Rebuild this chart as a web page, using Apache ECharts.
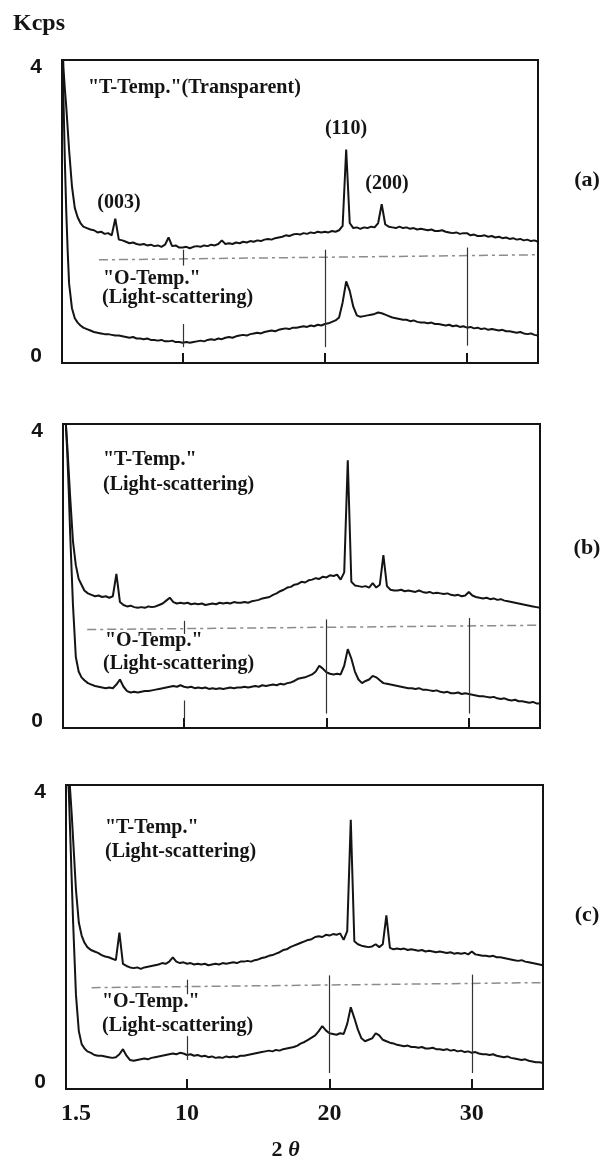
<!DOCTYPE html>
<html>
<head>
<meta charset="utf-8">
<script src="https://cdn.jsdelivr.net/npm/echarts@6/dist/echarts.min.js"></script>
<style>
  html, body { margin: 0; padding: 0; background: #fff; }
  #chart { width: 608px; height: 1160px; }
</style>
</head>
<body>
<div id="chart"></div>
<script>
// 2-theta scan positions (deg)
var twoTheta = [
  1.5, 1.6, 1.7, 1.8, 1.9, 2.0, 2.2, 2.4, 2.6, 2.8,
  3, 3.25, 3.5, 3.75,  4, 4.25, 4.5, 4.75,  5, 5.25, 5.5, 5.75,
  6, 6.25, 6.5, 6.75,  7, 7.25, 7.5, 7.75,  8, 8.25, 8.5, 8.75,
  9, 9.25, 9.5, 9.75,  10, 10.25, 10.5, 10.75,  11, 11.25, 11.5, 11.75,
  12, 12.25, 12.5, 12.75,  13, 13.25, 13.5, 13.75,  14, 14.25, 14.5, 14.75,
  15, 15.25, 15.5, 15.75,  16, 16.25, 16.5, 16.75,  17, 17.25, 17.5, 17.75,
  18, 18.25, 18.5, 18.75,  19, 19.25, 19.5, 19.75,  20, 20.25, 20.5, 20.75,
  21, 21.25, 21.5, 21.75,  22, 22.25, 22.5, 22.75,  23, 23.25, 23.5, 23.75,
  24, 24.25, 24.5, 24.75,  25, 25.25, 25.5, 25.75,  26, 26.25, 26.5, 26.75,
  27, 27.25, 27.5, 27.75,  28, 28.25, 28.5, 28.75,  29, 29.25, 29.5, 29.75,
  30, 30.25, 30.5, 30.75,  31, 31.25, 31.5, 31.75,  32, 32.25, 32.5, 32.75,
  33, 33.25, 33.5, 33.75,  34, 34.25, 34.5, 34.75,  35
];

// (a) "T-Temp." (Transparent), Kcps
var aTTemp = [
  4.6, 4.0, 3.7, 3.45, 3.15, 2.85, 2.35, 2.05, 1.92, 1.84,
  1.79, 1.77, 1.75, 1.74,  1.71, 1.72, 1.69, 1.70,  1.67, 1.90, 1.61, 1.60,
  1.58, 1.56, 1.57, 1.55,  1.54, 1.55, 1.53, 1.54,  1.52, 1.53, 1.51, 1.54,
  1.64, 1.52, 1.53, 1.50,  1.50, 1.51, 1.49, 1.51,  1.52, 1.51, 1.53, 1.52,
  1.54, 1.53, 1.55, 1.60,  1.55, 1.56, 1.55, 1.57,  1.56, 1.58, 1.57, 1.59,
  1.58, 1.60, 1.59, 1.61,  1.62, 1.61, 1.63, 1.64,  1.65, 1.67, 1.66, 1.68,
  1.69, 1.68, 1.70, 1.69,  1.71, 1.70, 1.72, 1.71,  1.72, 1.71, 1.73, 1.72,
  1.74, 1.80, 2.86, 1.84,  1.77, 1.78, 1.76, 1.78,  1.77, 1.79, 1.78, 1.84,
  2.10, 1.82, 1.79, 1.78,  1.77, 1.79, 1.77, 1.78,  1.76, 1.77, 1.75, 1.76,
  1.75, 1.74, 1.75, 1.73,  1.73, 1.74, 1.72, 1.71,  1.70, 1.71, 1.69, 1.70,
  1.70, 1.67, 1.68, 1.66,  1.66, 1.67, 1.65, 1.66,  1.64, 1.65, 1.63, 1.64,
  1.62, 1.63, 1.61, 1.62,  1.60, 1.61, 1.59, 1.60,  1.58
];
// (a) "O-Temp." (Light-scattering)
var aOTemp = [
  4.6, 3.6, 2.7, 2.0, 1.45, 1.0, 0.66, 0.52, 0.46, 0.42,
  0.39, 0.37, 0.35, 0.33,  0.32, 0.31, 0.30, 0.30,  0.29, 0.28, 0.28, 0.27,
  0.26, 0.25, 0.26, 0.24,  0.24, 0.23, 0.24, 0.22,  0.22, 0.21, 0.22, 0.20,
  0.20, 0.21, 0.19, 0.19,  0.18, 0.19, 0.18, 0.19,  0.20, 0.21, 0.20, 0.22,
  0.23, 0.22, 0.24, 0.23,  0.25, 0.26, 0.25, 0.27,  0.28, 0.29, 0.28, 0.30,
  0.31, 0.32, 0.31, 0.33,  0.34, 0.35, 0.34, 0.36,  0.37, 0.38, 0.37, 0.39,
  0.39, 0.40, 0.41, 0.40,  0.42, 0.41, 0.43, 0.42,  0.44, 0.45, 0.47, 0.49,
  0.53, 0.74, 1.03, 0.90,  0.68, 0.56, 0.54, 0.55,  0.56, 0.57, 0.58, 0.60,
  0.59, 0.57, 0.55, 0.53,  0.52, 0.51, 0.50, 0.50,  0.48, 0.49, 0.47, 0.46,
  0.46, 0.45, 0.46, 0.44,  0.44, 0.43, 0.42, 0.43,  0.41, 0.42, 0.40, 0.41,
  0.39, 0.40, 0.38, 0.39,  0.37, 0.38, 0.36, 0.37,  0.36, 0.35, 0.36, 0.34,
  0.34, 0.33, 0.32, 0.33,  0.31, 0.30, 0.31, 0.29,  0.28
];
// (b) "T-Temp." (Light-scattering)
var bTTemp = [
  4.6, 4.4, 4.1, 3.8, 3.45, 3.1, 2.48, 2.15, 1.96, 1.88,
  1.80, 1.76, 1.74, 1.72,  1.73, 1.71, 1.72, 1.70,  1.72, 2.03, 1.64, 1.60,
  1.58, 1.59, 1.57, 1.56,  1.57, 1.56, 1.58, 1.57,  1.58, 1.60, 1.62, 1.66,
  1.70, 1.64, 1.62, 1.63,  1.62, 1.63, 1.61, 1.62,  1.61, 1.62, 1.60, 1.61,
  1.62, 1.61, 1.63, 1.62,  1.63, 1.62, 1.64, 1.63,  1.63, 1.64, 1.63, 1.65,
  1.66, 1.67, 1.69, 1.70,  1.71, 1.74, 1.76, 1.79,  1.81, 1.84, 1.85, 1.88,
  1.89, 1.92, 1.91, 1.94,  1.95, 1.97, 1.96, 1.99,  1.98, 2.01, 2.00, 2.02,
  1.95, 2.05, 3.60, 1.92,  1.87, 1.86, 1.85, 1.86,  1.84, 1.90, 1.84, 1.88,
  2.29, 1.86, 1.81, 1.80,  1.80, 1.81, 1.79, 1.80,  1.79, 1.78, 1.80, 1.78,
  1.77, 1.78, 1.76, 1.77,  1.76, 1.75, 1.76, 1.74,  1.73, 1.74, 1.72, 1.73,
  1.78, 1.73, 1.71, 1.70,  1.69, 1.70, 1.68, 1.69,  1.67, 1.68, 1.66, 1.65,
  1.64, 1.63, 1.62, 1.61,  1.60, 1.59, 1.58, 1.57,  1.56
];
// (b) "O-Temp." (Light-scattering)
var bOTemp = [
  4.6, 4.4, 4.1, 3.7, 3.2, 2.6, 1.6, 0.88, 0.68, 0.60,
  0.56, 0.52, 0.50, 0.48,  0.47, 0.46, 0.45, 0.46,  0.45, 0.50, 0.57, 0.47,
  0.41, 0.39, 0.40, 0.39,  0.40, 0.41, 0.41, 0.42,  0.43, 0.44, 0.45, 0.46,
  0.47, 0.48, 0.47, 0.49,  0.47, 0.46, 0.47, 0.45,  0.46, 0.45, 0.46, 0.44,
  0.45, 0.44, 0.45, 0.44,  0.45, 0.46, 0.45, 0.46,  0.46, 0.47, 0.46, 0.47,
  0.48, 0.47, 0.49, 0.48,  0.49, 0.50, 0.49, 0.51,  0.50, 0.52, 0.53, 0.55,
  0.58, 0.59, 0.60, 0.62,  0.64, 0.68, 0.76, 0.72,  0.67, 0.65, 0.64, 0.65,
  0.64, 0.76, 0.99, 0.86,  0.68, 0.57, 0.52, 0.55,  0.57, 0.62, 0.60, 0.56,
  0.52, 0.51, 0.50, 0.49,  0.48, 0.47, 0.46, 0.45,  0.45, 0.44, 0.45, 0.43,
  0.43, 0.42, 0.41, 0.42,  0.40, 0.39, 0.40, 0.38,  0.38, 0.39, 0.37, 0.38,
  0.37, 0.36, 0.35, 0.34,  0.34, 0.33, 0.32, 0.33,  0.31, 0.30, 0.31, 0.29,
  0.28, 0.29, 0.27, 0.27,  0.26, 0.25, 0.26, 0.24,  0.24
];
// (c) "T-Temp." (Light-scattering)
var cTTemp = [
  4.6, 4.5, 4.3, 4.0, 3.7, 3.35, 2.65, 2.2, 2.02, 1.92,
  1.86, 1.82, 1.80, 1.78,  1.75, 1.73, 1.72, 1.70,  1.68, 2.06, 1.63, 1.60,
  1.58, 1.57, 1.58, 1.56,  1.58, 1.59, 1.60, 1.61,  1.62, 1.64, 1.63, 1.66,
  1.72, 1.66, 1.64, 1.65,  1.63, 1.64, 1.62, 1.63,  1.62, 1.63, 1.61, 1.62,
  1.63, 1.62, 1.64, 1.63,  1.64, 1.65, 1.64, 1.66,  1.66, 1.67, 1.66, 1.68,
  1.69, 1.71, 1.72, 1.74,  1.75, 1.77, 1.79, 1.82,  1.83, 1.86, 1.88, 1.90,
  1.92, 1.94, 1.96, 1.97,  2.00, 2.01, 2.00, 2.03,  2.02, 2.04, 2.03, 2.05,
  1.96, 2.08, 3.62, 1.94,  1.90, 1.88, 1.87, 1.86,  1.87, 1.90, 1.86, 1.90,
  2.30, 1.85, 1.83, 1.84,  1.83, 1.84, 1.82, 1.83,  1.82, 1.81, 1.82, 1.80,
  1.81, 1.80, 1.79, 1.80,  1.79, 1.78, 1.79, 1.77,  1.78, 1.77, 1.78, 1.76,
  1.80, 1.76, 1.75, 1.74,  1.74, 1.73, 1.74, 1.72,  1.72, 1.71, 1.70, 1.69,
  1.68, 1.67, 1.68, 1.66,  1.65, 1.64, 1.63, 1.62,  1.61
];
// (c) "O-Temp." (Light-scattering)
var cOTemp = [
  4.6, 4.4, 4.0, 3.4, 2.8, 2.2, 1.2, 0.70, 0.52, 0.46,
  0.42, 0.40, 0.37, 0.36,  0.36, 0.35, 0.34, 0.33,  0.34, 0.38, 0.45, 0.36,
  0.30, 0.29, 0.30, 0.31,  0.32, 0.31, 0.33, 0.34,  0.35, 0.36, 0.37, 0.38,
  0.39, 0.38, 0.40, 0.39,  0.37, 0.38, 0.36, 0.37,  0.35, 0.36, 0.34, 0.35,
  0.33, 0.34, 0.33, 0.35,  0.34, 0.35, 0.34, 0.36,  0.36, 0.37, 0.38, 0.39,
  0.40, 0.41, 0.42, 0.43,  0.42, 0.44, 0.43, 0.45,  0.46, 0.47, 0.48, 0.50,
  0.53, 0.55, 0.58, 0.61,  0.64, 0.70, 0.77, 0.71,  0.67, 0.66, 0.65, 0.67,
  0.66, 0.80, 1.03, 0.88,  0.72, 0.60, 0.56, 0.58,  0.60, 0.67, 0.64, 0.58,
  0.56, 0.54, 0.53, 0.51,  0.50, 0.49, 0.50, 0.48,  0.48, 0.47, 0.48, 0.46,
  0.46, 0.47, 0.45, 0.45,  0.44, 0.45, 0.43, 0.44,  0.42, 0.43, 0.41, 0.42,
  0.40, 0.41, 0.39, 0.38,  0.38, 0.37, 0.38, 0.36,  0.35, 0.34, 0.35, 0.33,
  0.32, 0.31, 0.30, 0.31,  0.29, 0.28, 0.27, 0.27,  0.26
];

var xTickLabels = [1.5, 10, 20, 30];
var xTicks = [10, 20, 30];
var yTickLabels = [0, 4];
var panelNames = ['(a)', '(b)', '(c)'];

// dashed reference line: start 2theta, level at start, level at right edge
var dashStart = [4.1, 3.2, 3.3];
var dashLeftLevel = [1.33, 1.26, 1.30];
var dashRightLevel = [1.40, 1.32, 1.37];
// vertical marks: [2theta, from, to]
var marks = [
  [[10, 1.47, 1.25], [10, 0.44, 0.12], [20, 1.47, 0.12], [30, 1.50, 0.14]],
  [[10, 1.38, 1.20], [10, 0.28, 0.02], [20, 1.40, 0.10], [30, 1.42, 0.10]],
  [[10, 1.41, 1.21], [10, 0.63, 0.30], [20, 1.47, 0.12], [30, 1.48, 0.12]]
];

var chart = echarts.init(document.getElementById('chart'));
var ink = '#141414';
var serif = '"Liberation Serif", "Times New Roman", serif';
var sans = '"Liberation Sans", Arial, sans-serif';

var curves = [[aTTemp, aOTemp], [bTTemp, bOTemp], [cTTemp, cOTemp]];
var boxes = [
  { left: 62, top: 60, width: 476, height: 303 },
  { left: 63, top: 424, width: 477, height: 304 },
  { left: 66, top: 785, width: 477, height: 304 }
];

function pairs(ys) {
  return twoTheta.map(function (x, i) { return [x, ys[i]]; });
}

var grid = [], xAxis = [], yAxis = [], series = [];
boxes.forEach(function (box, i) {
  grid.push(Object.assign({ show: true, borderColor: ink, borderWidth: 2 }, box));
  xAxis.push({
    type: 'value', gridIndex: i, min: 1.5, max: 35,
    axisLine: { show: true, onZero: false, lineStyle: { color: ink, width: 2 } },
    axisTick: { show: true, inside: true, length: 10, customValues: xTicks, lineStyle: { color: ink, width: 2 } },
    axisLabel: {
      show: i === 2, customValues: xTickLabels, margin: 13,
      color: ink, fontFamily: serif, fontSize: 24, fontWeight: 'bold',
      formatter: function (v) { return v === 1.5 ? '{first|1.5}' : String(v); },
      rich: { first: { padding: [0, 0, 0, 20], color: ink, fontFamily: serif, fontSize: 24, fontWeight: 'bold' } }
    },
    splitLine: { show: false }
  });
  yAxis.push({
    type: 'value', gridIndex: i, min: -0.1, max: 4.1,
    axisLine: { show: true, onZero: false, lineStyle: { color: ink, width: 2 } },
    axisTick: { show: false },
    axisLabel: { customValues: yTickLabels, margin: 20, color: ink, fontFamily: sans, fontSize: 21, fontWeight: 'bold' },
    splitLine: { show: false }
  });

  var mlData = [[
    { coord: [dashStart[i], dashLeftLevel[i]], lineStyle: { color: '#8c8c8c', width: 1.5, type: [9, 4, 3, 4] } },
    { coord: [35, dashRightLevel[i]] }
  ]];
  marks[i].forEach(function (m) {
    mlData.push([
      { coord: [m[0], m[1]], lineStyle: { color: '#333', width: 1.2, type: 'solid' } },
      { coord: [m[0], m[2]] }
    ]);
  });

  series.push({
    type: 'line', xAxisIndex: i, yAxisIndex: i, data: pairs(curves[i][0]),
    symbol: 'none', lineStyle: { color: ink, width: 2 }, silent: true
  });
  series.push({
    type: 'line', xAxisIndex: i, yAxisIndex: i, data: pairs(curves[i][1]),
    symbol: 'none', lineStyle: { color: ink, width: 2 }, silent: true,
    markLine: { silent: true, symbol: ['none', 'none'], label: { show: false }, data: mlData }
  });
});

var notes = [
  ['"T-Temp."(Transparent)', 88, 88, 'left'],
  ['(003)', 119, 203, 'center'],
  ['(110)', 346, 129, 'center'],
  ['(200)', 387, 184, 'center'],
  ['"O-Temp."', 103, 279, 'left'],
  ['(Light-scattering)', 102, 298, 'left'],
  ['"T-Temp."', 103, 460, 'left'],
  ['(Light-scattering)', 103, 485, 'left'],
  ['"O-Temp."', 105, 641, 'left'],
  ['(Light-scattering)', 103, 664, 'left'],
  ['"T-Temp."', 105, 828, 'left'],
  ['(Light-scattering)', 105, 852, 'left'],
  ['"O-Temp."', 102, 1002, 'left'],
  ['(Light-scattering)', 102, 1026, 'left']
];
var namePos = [180, 548, 915];

var graphic = notes.map(function (n) {
  return { type: 'text', style: { text: n[0], x: n[1], y: n[2], textAlign: n[3], textVerticalAlign: 'middle', font: 'bold 20px ' + serif, fill: ink } };
});
panelNames.forEach(function (name, i) {
  graphic.push({ type: 'text', style: { text: name, x: 587, y: namePos[i], textAlign: 'center', textVerticalAlign: 'middle', font: 'bold 22px ' + serif, fill: ink } });
});
graphic.push({ type: 'text', style: { text: 'Kcps', x: 13, y: 24, textAlign: 'left', textVerticalAlign: 'middle', font: 'bold 24px ' + serif, fill: ink } });
graphic.push({ type: 'text', style: { text: '2', x: 277, y: 1150, textAlign: 'center', textVerticalAlign: 'middle', font: 'bold 22px ' + serif, fill: ink } });
graphic.push({ type: 'text', style: { text: 'θ', x: 294, y: 1150, textAlign: 'center', textVerticalAlign: 'middle', font: 'italic bold 22px ' + serif, fill: ink } });

chart.setOption({
  animation: false,
  backgroundColor: '#fff',
  grid: grid,
  xAxis: xAxis,
  yAxis: yAxis,
  series: series,
  graphic: graphic
});
</script>
</body>
</html>
